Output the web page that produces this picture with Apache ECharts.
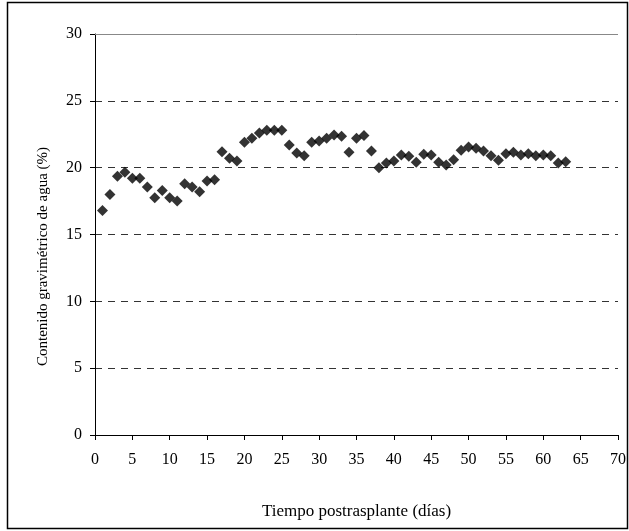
<!DOCTYPE html>
<html>
<head>
<meta charset="utf-8">
<script src="https://cdn.jsdelivr.net/npm/echarts@6/dist/echarts.min.js"></script>
<style>
  html, body { margin: 0; padding: 0; background: #fff; }
  #chart { width: 629px; height: 531px; }
</style>
</head>
<body>
<div id="chart"></div>
<script>
// días postrasplante
var dias = [];
for (var d = 1; d <= 63; d++) dias.push(d);
// contenido gravimétrico de agua (%)
var humedad = [
  16.8, 18.0, 19.35, 19.65, 19.2, 19.2, 18.55, 17.75, 18.3, 17.75,
  17.5, 18.8, 18.55, 18.2, 19.0, 19.1, 21.2, 20.7, 20.5, 21.9,
  22.2, 22.6, 22.8, 22.8, 22.8, 21.7, 21.1, 20.9, 21.9, 22.0,
  22.2, 22.45, 22.35, 21.15, 22.2, 22.4, 21.25, 20.0, 20.35, 20.5,
  20.95, 20.85, 20.4, 21.0, 20.95, 20.4, 20.2, 20.6, 21.3, 21.55,
  21.45, 21.25, 20.9, 20.55, 21.05, 21.15, 20.95, 21.05, 20.9, 20.95,
  20.9, 20.35, 20.45
];
var xMin = 0, xMax = 70, xStep = 5;
var yMin = 0, yMax = 30, yStep = 5;

var myChart = echarts.init(document.getElementById("chart"));
var fuente = "Liberation Serif";

var puntos = dias.map(function (d, i) { return [d, humedad[i]]; });

var option = {
  backgroundColor: "#fff",
  animation: false,
  // marco exterior
  graphic: [{
    type: "rect",
    shape: { x: 7.5, y: 2.5, width: 620, height: 526 },
    style: { fill: "none", stroke: "#000", lineWidth: 1.5 }
  }],
  grid: { left: 95, right: 9, top: 34, bottom: 96 },
  xAxis: {
    type: "value",
    min: xMin, max: xMax, interval: xStep,
    name: "Tiempo postrasplante (días)",
    nameLocation: "middle",
    nameGap: 68,
    nameTextStyle: { fontFamily: fuente, fontSize: 17, color: "#000" },
    axisLine: { lineStyle: { color: "#000", width: 1 } },
    axisTick: { show: true, length: 5, lineStyle: { color: "#000" } },
    axisLabel: { fontFamily: fuente, fontSize: 16, color: "#000", margin: 17 },
    splitLine: { show: false }
  },
  yAxis: {
    type: "value",
    min: yMin, max: yMax, interval: yStep,
    name: "Contenido gravimétrico de agua (%)",
    nameLocation: "middle",
    nameGap: 44,
    nameTextStyle: {
      fontFamily: fuente, fontSize: 15, color: "#000",
      // bajar el título unos píxeles
      padding: [0, 44, 0, 0]
    },
    axisLine: { show: true, lineStyle: { color: "#000", width: 1 } },
    axisTick: { show: true, length: 5, lineStyle: { color: "#000" } },
    axisLabel: { fontFamily: fuente, fontSize: 16, color: "#000", margin: 13 },
    splitLine: {
      show: true,
      lineStyle: { color: "#333", type: [7, 6], width: 1 }
    }
  },
  series: [{
    type: "scatter",
    data: puntos,
    symbol: "diamond",
    symbolSize: 11,
    itemStyle: { color: "#000" },
    markLine: {
      silent: true,
      symbol: "none",
      label: { show: false },
      lineStyle: { color: "#888", type: "solid", width: 1 },
      data: [{ yAxis: yMax }]
    }
  }]
};
myChart.setOption(option);
</script>
</body>
</html>
